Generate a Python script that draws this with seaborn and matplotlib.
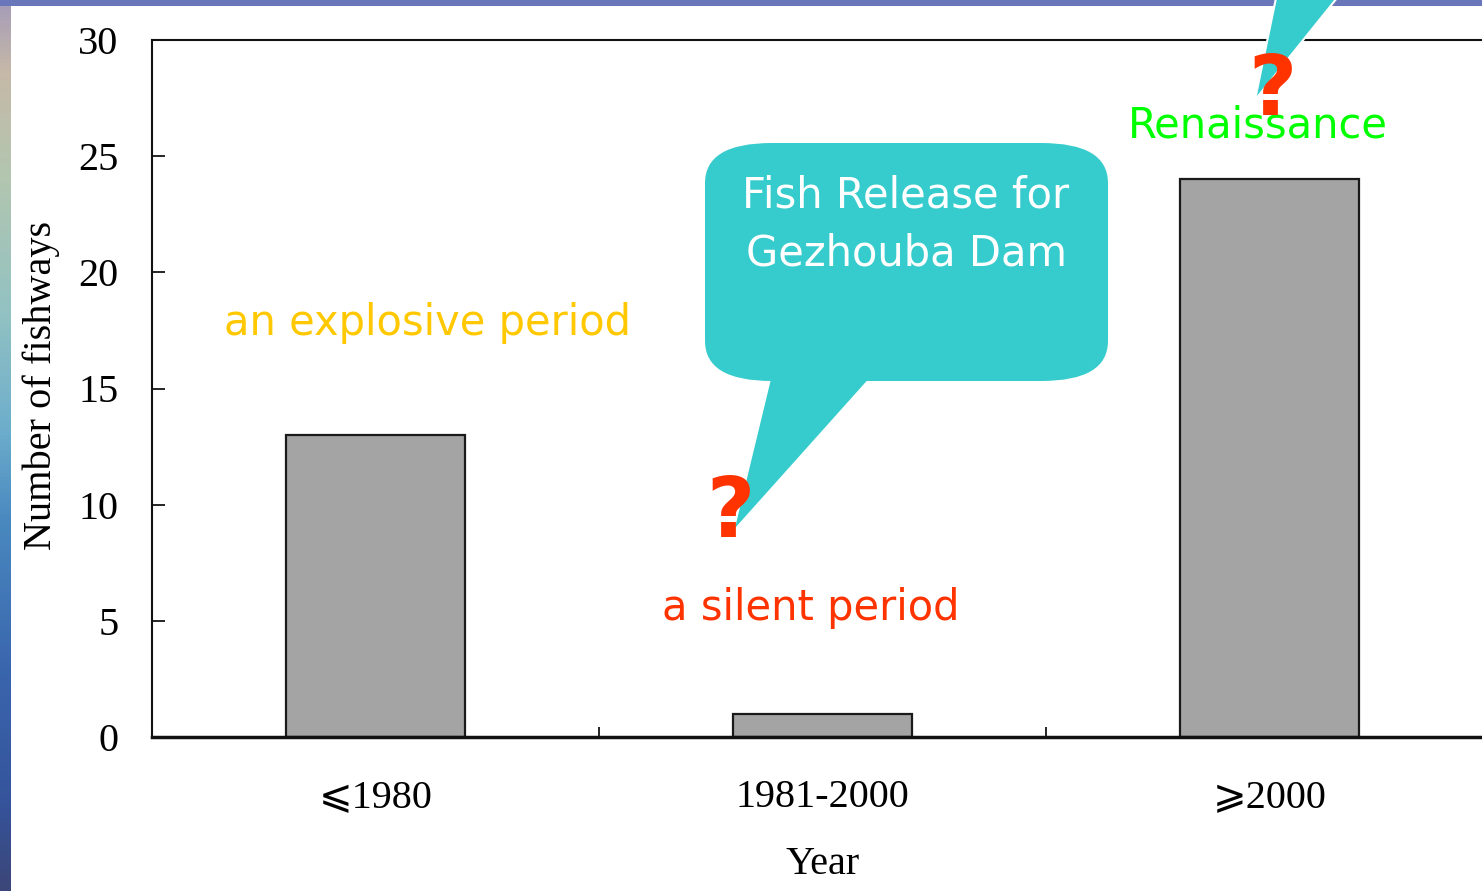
import matplotlib
matplotlib.use("Agg")
import matplotlib.pyplot as plt
import seaborn as sns
import pandas as pd
import numpy as np
from matplotlib.patches import FancyBboxPatch, Polygon, Rectangle
from matplotlib.colors import LinearSegmentedColormap

# ---- data ----
periods = ["⩽1980", "1981-2000", "⩾2000"]
fishways = [13, 1, 24]
y_ticks = [0, 5, 10, 15, 20, 25, 30]
x_label = "Year"
y_label = "Number of fishways"
bubble_text = "Fish Release for\nGezhouba Dam"
period_notes = ["an explosive period", "a silent period", "Renaissance"]

W, H = 1482, 891
fig = plt.figure(figsize=(W / 100, H / 100), dpi=100)
fig.patch.set_facecolor("white")


def fx(x):
    return x / W


def fy(y):
    return 1 - y / H


# slide background strips (decoration)
cmap = LinearSegmentedColormap.from_list(
    "slide",
    [(0.0, "#a49cb8"), (0.08, "#c6b9a8"), (0.2, "#b2c6b0"), (0.35, "#92c2c2"),
     (0.48, "#6eaecc"), (0.58, "#4a8ac0"), (0.75, "#3a66ae"), (0.9, "#35549c"),
     (1.0, "#3c4678")])
sax = fig.add_axes([0, 0, 11 / W, 1])
sax.imshow(np.linspace(0, 1, 256).reshape(-1, 1), aspect="auto", cmap=cmap)
sax.axis("off")
fig.add_artist(Rectangle((0, fy(6)), 1, 6 / H, transform=fig.transFigure,
                         facecolor="#6a76ba", edgecolor="none", zorder=0.5))

ax = fig.add_axes([fx(152), fy(737), 1341.5 / W, 697 / H])
ax.set_facecolor("white")
df = pd.DataFrame({"period": periods, "count": fishways})
sns.barplot(data=df, x="period", y="count", color="#a4a4a4", saturation=1,
            edgecolor="#1a1a1a", linewidth=1.6, width=0.4, ax=ax)
ax.set_xlim(-0.5, 2.5)
ax.set_ylim(0, 30)
ax.set_yticks(y_ticks)
ax.set_yticklabels([str(v) for v in y_ticks])
ax.set_xticks([0, 1, 2])
ax.set_xticklabels(periods)
ax.set_xticks([0.5, 1.5], minor=True)

serif = ["Liberation Serif", "DejaVu Sans"]
for lab in ax.get_xticklabels() + ax.get_yticklabels():
    lab.set_fontfamily(serif)
    lab.set_fontsize(29)

ax.tick_params(axis="y", direction="in", length=9, width=1.2, pad=24, colors="black")
ax.tick_params(axis="x", which="major", length=0, pad=30)
ax.tick_params(axis="x", which="minor", direction="in", length=7, width=1.2)

ax.spines["right"].set_visible(False)
ax.spines["top"].set_linewidth(1.5)
ax.spines["left"].set_linewidth(1.5)
ax.spines["bottom"].set_linewidth(2.5)
for s in ax.spines.values():
    s.set_color("#111111")

ax.set_ylabel(y_label, fontfamily=serif, fontsize=29, va="center")
ax.yaxis.set_label_coords((41 - 152) / 1341.5, (737 - 385) / 697)
ax.set_xlabel(x_label, fontfamily=serif, fontsize=29, va="center")
ax.xaxis.set_label_coords((823 - 152) / 1341.5, (737 - 865) / 697)

teal = "#36cccd"
# speech bubble
fig.add_artist(FancyBboxPatch((fx(705), fy(381)), fx(1108) - fx(705), fy(143) - fy(381),
                              boxstyle="round,pad=0,rounding_size=0.045",
                              transform=fig.transFigure, facecolor=teal,
                              edgecolor="none", zorder=2))
fig.add_artist(Polygon([(fx(772), fy(375)), (fx(872), fy(375)), (fx(735), fy(528))],
                       closed=True, transform=fig.transFigure, facecolor=teal,
                       edgecolor="none", zorder=2))
# second bubble tail (body off-slide)
fig.add_artist(Polygon([(fx(1276), fy(-2)), (fx(1337), fy(-2)), (fx(1255), fy(100))],
                       closed=True, transform=fig.transFigure, facecolor=teal,
                       edgecolor="white", linewidth=1.5, zorder=2))

sans = "DejaVu Sans"
fig.text(fx(906), fy(208), bubble_text.split("\n")[0], color="white", fontsize=30,
         family=sans, ha="center", va="baseline", zorder=3)
fig.text(fx(906), fy(265), bubble_text.split("\n")[1], color="white", fontsize=30,
         family=sans, ha="center", va="baseline", zorder=3)

fig.text(fx(428), fy(335), period_notes[0], color="#ffc800", fontsize=30,
         family=sans, ha="center", va="baseline", zorder=3)
fig.text(fx(811), fy(620), period_notes[1], color="#ff3300", fontsize=30,
         family=sans, ha="center", va="baseline", zorder=3)
fig.text(fx(1258), fy(138), period_notes[2], color="#00ff00", fontsize=30,
         family=sans, ha="center", va="baseline", zorder=3)

fig.text(fx(730), fy(537), "?", color="#ff3300", fontsize=60, fontweight="bold",
         family=sans, ha="center", va="baseline", zorder=4)
fig.text(fx(1272), fy(115), "?", color="#ff3300", fontsize=60, fontweight="bold",
         family=sans, ha="center", va="baseline", zorder=4)

fig.savefig("out.png", dpi=100, facecolor=fig.get_facecolor())
